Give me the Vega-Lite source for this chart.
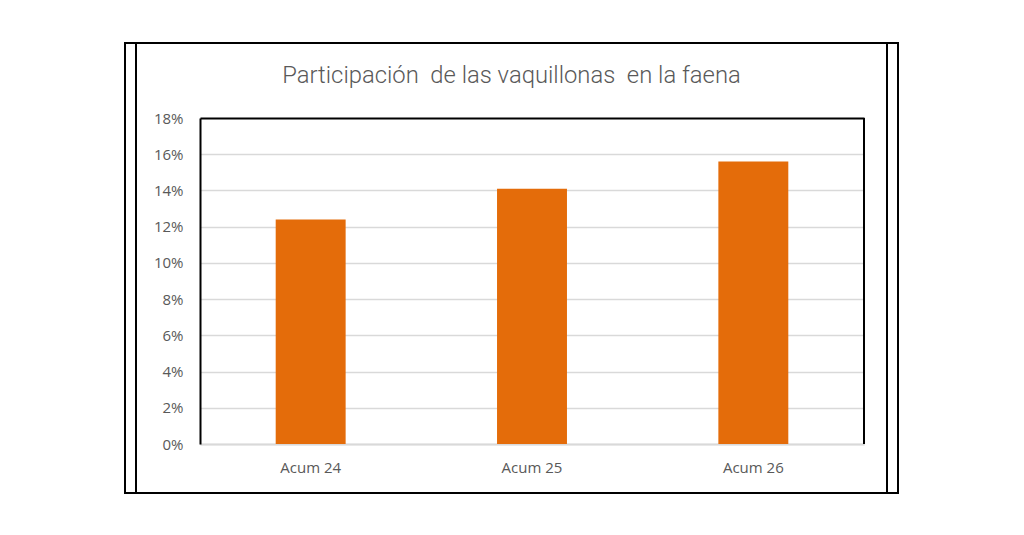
{
  "$schema": "https://vega.github.io/schema/vega-lite/v6.json",
  "padding": {"left": 124, "top": 42, "right": 0, "bottom": 0},
  "spacing": 0,
  "bounds": "flush",
  "config": {
    "view": {"stroke": "black", "strokeWidth": 2},
    "concat": {"spacing": 0}
  },
  "hconcat": [
    {
      "width": 11,
      "height": 450,
      "view": {"stroke": "black", "strokeWidth": 2},
      "data": {"values": [{}]},
      "mark": {"type": "point", "opacity": 0, "size": 1},
      "encoding": {}
    },
    {
      "width": 751,
      "height": 450,
      "title": {
        "text": "Participación\u00a0 de las vaquillonas\u00a0 en la faena",
        "offset": -57,
        "baseline": "middle",
        "anchor": "middle",
        "font": "Roboto",
        "fontSize": 23.8,
        "fontWeight": 300,
        "color": "#595959"
      },
      "data": {
        "values": [
          {"periodo": "Acum 24", "valor": 0.124},
          {"periodo": "Acum 25", "valor": 0.141},
          {"periodo": "Acum 26", "valor": 0.156}
        ]
      },
      "layer": [
        {
          "mark": {"type": "bar", "color": "#E46C0A", "width": {"band": 0.316}},
          "encoding": {
            "x": {
              "field": "periodo",
              "type": "nominal",
              "scale": {"range": [64, 728], "paddingInner": 0, "paddingOuter": 0},
              "axis": {
                "title": null,
                "orient": "bottom",
                "offset": -49,
                "labelAngle": 0,
                "ticks": false,
                "grid": false,
                "domainColor": "#d9d9d9",
                "domainWidth": 2,
                "labelPadding": 16,
                "labelFont": "Open Sans",
                "labelFontSize": 15,
                "labelColor": "#595959"
              }
            },
            "y": {
              "field": "valor",
              "type": "quantitative",
              "scale": {"domain": [0, 0.18], "range": [401, 75], "nice": false, "zero": true},
              "axis": {
                "title": null,
                "orient": "left",
                "offset": -64,
                "values": [0, 0.02, 0.04, 0.06, 0.08, 0.1, 0.12, 0.14, 0.16, 0.18],
                "format": ".0%",
                "ticks": false,
                "domainColor": "black",
                "domainWidth": 2,
                "labelPadding": 17,
                "labelFont": "Open Sans",
                "labelFontSize": 15,
                "labelColor": "#595959",
                "grid": true,
                "gridColor": {"condition": {"test": "datum.value === 0.18", "value": "black"}, "value": "#d9d9d9"},
                "gridWidth": {"condition": {"test": "datum.value === 0.18", "value": 2}, "value": 1.5}
              }
            }
          }
        },
        {
          "data": {"values": [{}]},
          "mark": {"type": "rule", "color": "black", "strokeWidth": 2},
          "encoding": {
            "x": {"datum": "Acum 26", "type": "nominal", "bandPosition": 1},
            "y": {"datum": 0, "type": "quantitative"},
            "y2": {"datum": 0.18}
          }
        }
      ]
    },
    {
      "width": 11,
      "height": 450,
      "view": {"stroke": "black", "strokeWidth": 2},
      "data": {"values": [{}]},
      "mark": {"type": "point", "opacity": 0, "size": 1},
      "encoding": {}
    }
  ]
}
